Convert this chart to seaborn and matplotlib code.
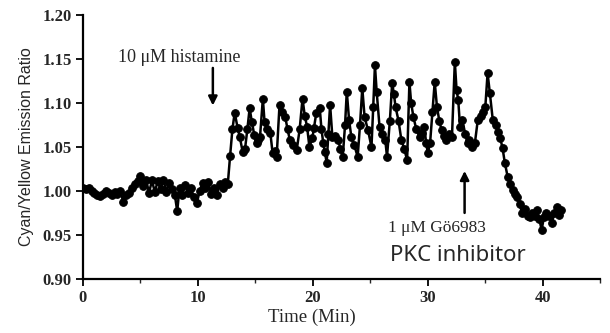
import numpy as np
import pandas as pd
import matplotlib
matplotlib.use("Agg")
import matplotlib.pyplot as plt
from matplotlib.ticker import MultipleLocator, FormatStrFormatter
import seaborn as sns

# Time (min) and cyan/yellow emission ratio
time_min = [
    0.0, 0.25, 0.5, 0.75, 1.0, 1.25, 1.5, 1.75, 2.0, 2.25, 2.5, 2.75, 3.0, 3.25,
    3.5, 3.75, 4.0, 4.25, 4.5, 4.75, 5.0, 5.25, 5.5, 5.75, 6.0, 6.25, 6.5, 6.75,
    7.0, 7.25, 7.5, 7.75, 8.0, 8.2, 8.4, 8.65, 8.9, 9.15, 9.4, 9.65, 9.9, 10.15,
    10.4, 10.65, 10.9, 11.15, 11.4, 11.65, 11.9, 12.15, 12.4, 12.6, 12.8, 13.0,
    13.2, 13.45, 13.65, 13.9, 14.1, 14.3, 14.5, 14.7, 14.9, 15.1, 15.25, 15.4,
    15.65, 15.8, 16.05, 16.3, 16.5, 16.7, 16.85, 17.1, 17.35, 17.6, 17.8, 18.0,
    18.3, 18.6, 18.85, 19.1, 19.3, 19.5, 19.7, 19.95, 20.1, 20.3, 20.6, 20.75,
    20.9, 21.05, 21.2, 21.35, 21.5, 21.7, 21.95, 22.2, 22.4, 22.6, 22.8, 22.95,
    23.15, 23.35, 23.6, 23.9, 24.1, 24.3, 24.5, 24.8, 25.1, 25.25, 25.4, 25.55,
    25.8, 26.05, 26.3, 26.45, 26.7, 26.9, 27.05, 27.2, 27.45, 27.7, 27.95, 28.2,
    28.4, 28.55, 28.75, 29.0, 29.3, 29.5, 29.7, 29.85, 30.0, 30.2, 30.4, 30.6,
    30.8, 31.0, 31.2, 31.4, 31.6, 31.85, 32.1, 32.35, 32.5, 32.65, 32.8, 33.0,
    33.25, 33.5, 33.6, 33.85, 34.1, 34.35, 34.6, 34.8, 35.0, 35.2, 35.4, 35.65,
    35.9, 36.1, 36.3, 36.5, 36.7, 36.95, 37.15, 37.4, 37.6, 37.8, 38.0, 38.2,
    38.45, 38.7, 38.9, 39.1, 39.3, 39.5, 39.7, 39.9, 40.1, 40.3, 40.55, 40.8,
    41.0, 41.2, 41.4, 41.6,
]
ratio = [
    1.003, 1.002, 1.004, 1.000, 0.998, 0.996, 0.994, 0.997, 1.000, 0.998, 0.996, 0.999, 0.997, 1.000,
    0.988, 0.996, 0.998, 1.003, 1.008, 1.011, 1.017, 1.006, 1.012, 0.998, 1.012, 0.999, 1.011, 1.002,
    1.013, 0.999, 1.009, 1.002, 0.995, 0.977, 1.004, 0.996, 1.007, 0.998, 1.003, 0.993, 0.986, 1.000,
    1.009, 1.003, 1.010, 0.997, 1.003, 0.995, 1.008, 1.003, 1.010, 1.008, 1.040, 1.070,
    1.089, 1.072, 1.061, 1.044, 1.048, 1.070, 1.094, 1.078, 1.064, 1.055, 1.058, 1.061,
    1.105, 1.078, 1.070, 1.066, 1.043, 1.046, 1.039, 1.098, 1.090, 1.084, 1.070, 1.058,
    1.052, 1.047, 1.070, 1.105, 1.085, 1.073, 1.050, 1.060, 1.072, 1.089, 1.094, 1.070,
    1.055, 1.044, 1.032, 1.065, 1.098, 1.061, 1.062, 1.058, 1.048, 1.039, 1.075, 1.113,
    1.081, 1.061, 1.052, 1.039, 1.075, 1.117, 1.084, 1.069, 1.050, 1.095, 1.143, 1.113,
    1.073, 1.065, 1.058, 1.039, 1.080, 1.123, 1.110, 1.095, 1.080, 1.058, 1.048, 1.035,
    1.124, 1.100, 1.084, 1.070, 1.061, 1.066, 1.073, 1.055, 1.043, 1.055, 1.090, 1.124,
    1.095, 1.080, 1.069, 1.062, 1.058, 1.065, 1.061, 1.147, 1.115, 1.103, 1.073, 1.081,
    1.065, 1.055, 1.058, 1.050, 1.055, 1.081, 1.085, 1.090, 1.095, 1.134, 1.111, 1.081,
    1.075, 1.067, 1.060, 1.049, 1.032, 1.016, 1.008, 1.001, 0.997, 0.993, 0.985, 0.975,
    0.980, 0.972, 0.970, 0.975, 0.972, 0.978, 0.968, 0.956, 0.970, 0.975, 0.972, 0.964,
    0.975, 0.982, 0.973, 0.978,
]

df = pd.DataFrame({"Time": time_min, "Ratio": ratio})

sns.set_style("ticks")
plt.rcParams['font.family'] = ['Liberation Serif', 'DejaVu Serif']

fig = plt.figure(figsize=(6.1, 3.33), dpi=100)
ax = fig.add_axes([0.136, 0.162, 0.848, 0.793])

sns.lineplot(data=df, x="Time", y="Ratio", ax=ax, color="black", linewidth=1.8,
             marker="o", markersize=5.5, markeredgecolor="black", sort=False)

ax.set_xlim(0, 45)
ax.set_ylim(0.90, 1.20)
ax.xaxis.set_major_locator(MultipleLocator(10))
ax.xaxis.set_minor_locator(MultipleLocator(5))
ax.yaxis.set_major_locator(MultipleLocator(0.05))
ax.yaxis.set_major_formatter(FormatStrFormatter("%.2f"))
ax.tick_params(axis="both", which="major", direction="out", length=5, width=1.3,
               labelsize=12, pad=3, color="black")
ax.tick_params(axis="x", which="minor", direction="out", length=3, width=1.0)
for lab in ax.get_xticklabels() + ax.get_yticklabels():
    lab.set_fontweight("bold")

sns.despine(ax=ax)
for side in ["left", "bottom"]:
    ax.spines[side].set_linewidth(1.6)
    ax.spines[side].set_color("black")

ax.set_xlabel("Time (Min)", fontsize=13.5)
ax.xaxis.set_label_coords(0.443, -0.112)
ax.set_ylabel("Cyan/Yellow Emission Ratio", fontsize=11.5, labelpad=6,
              family=["Liberation Sans", "DejaVu Sans"])

# Annotations
ax.text(8.4, 1.152, "10 \u03bcM histamine", fontsize=13, ha="center", va="center")
ax.annotate("", xy=(11.3, 1.094), xytext=(11.3, 1.143),
            arrowprops=dict(arrowstyle="-|>", color="black", lw=1.8, mutation_scale=13))

ax.text(30.8, 0.958, "1 \u03bcM G\u00f66983", fontsize=12.5, ha="center", va="center")
ax.annotate("", xy=(33.2, 1.026), xytext=(33.2, 0.972),
            arrowprops=dict(arrowstyle="-|>", color="black", lw=1.8, mutation_scale=13))
ax.text(32.6, 0.927, "PKC inhibitor", fontsize=16, ha="center", va="center",
        family=["Noto Sans", "DejaVu Sans"])

fig.savefig("out.png", dpi=100)
